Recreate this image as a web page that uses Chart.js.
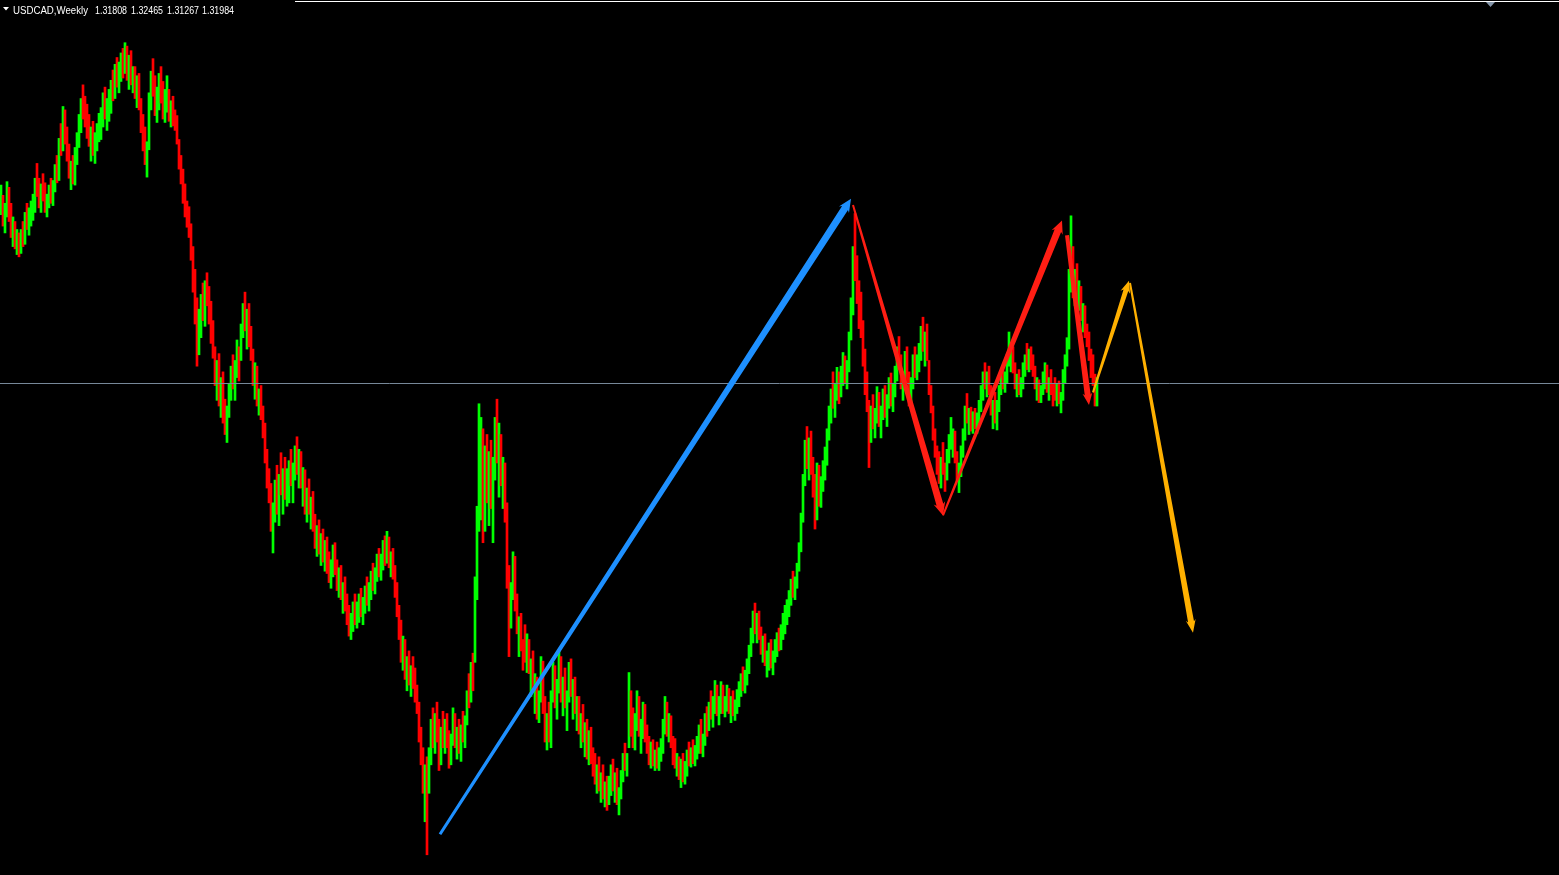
<!DOCTYPE html>
<html><head><meta charset="utf-8">
<script src="https://cdn.jsdelivr.net/npm/chart.js@4.4.0/dist/chart.umd.min.js"></script>
<style>html,body{margin:0;padding:0;background:#000;overflow:hidden}canvas{display:block}</style>
</head><body>
<canvas id="c" width="1559" height="875"></canvas>
<script>
// ---- data (USDCAD, one bar per two weeks) ----
const symbolTitle = "USDCAD,Weekly";
const quoteLabels = ["1.31808", "1.32465", "1.31267", "1.31984"];
const bidPrice = 1.31984;
const firstOpen = 1.474;

const highs = [
1.494,1.485,1.478,1.497,1.492, 1.478,1.466,1.462,1.455,1.452,
1.455,1.462,1.470,1.478,1.474,1.480,1.486, 1.500,1.513,1.500,1.495,1.504,
1.496,1.486,1.494,1.500,1.498, 1.512,1.520,1.535,1.548,1.563,1.560,1.545,
1.530,1.515,1.520,1.527,1.540, 1.556,1.570,1.582,1.572,1.565,
1.556,1.545,1.550,1.540,1.548,1.557, 1.562,1.575,1.580,1.570,1.578,
1.586,1.595,1.600,1.606,1.602, 1.610,1.614,1.619,1.616,1.608,1.612,1.598,
1.598,1.590,1.592, 1.570,1.556,1.545,1.532,1.575, 1.594,1.605,1.590,1.580,
1.592,1.598,1.585,1.578,1.590, 1.578,1.568,1.572,1.560,1.555,
1.534,1.520,1.508,1.495,1.480, 1.475,1.460,1.440,1.420,1.395,1.385,
1.398,1.408,1.410,1.417,1.405,1.392,1.375, 1.352,1.340,1.346,1.325,1.330,1.306,1.300,
1.320,1.335,1.345,1.340,1.358,1.352, 1.372,1.390,1.400,1.385,1.390,1.370,
1.350,1.338,1.335,1.315,1.318,1.300, 1.285,1.262,1.245, 1.232,1.215,1.235,
1.248,1.240,1.259,1.245,1.255,1.245, 1.252,1.262,1.250,1.265,1.273,1.262,
1.260,1.246,1.244,1.228,1.236,1.220,1.225, 1.205,1.195,1.200,1.188,1.192,1.182,1.185,
1.172,1.165,1.178,1.180,1.165,1.158,1.160,1.145,1.150,1.135, 1.125,1.118,1.128,1.135,1.128,
1.135,1.140,1.132,1.142,1.150,1.145,1.155,1.162,1.158,1.170,
1.175,1.170,1.182,1.186,1.190,1.185,1.172,1.175,1.160,1.145,
1.125,1.112,1.098,1.095,1.080, 1.085,1.072,1.080,1.070,1.055, 1.040,1.018,1.000,0.985, 0.992,
1.000,1.025,1.035,1.030,1.040,1.025,1.018,1.032,
1.025,1.030,1.015,1.012,1.035,1.030,1.018,1.025,1.020,1.032,1.028,
1.050,1.065,1.075,1.083, 1.150,1.212, 1.302,1.290,1.280,1.265,1.275,
1.260,1.270,1.255,1.290,1.306,1.285, 1.275,1.255,1.250, 1.215,1.160, 1.145,1.172,1.168,
1.135,1.115,1.118,1.095,1.108,1.100, 1.095,1.078,1.085,1.065,1.062,1.050,
1.080,1.076,1.045,1.030,1.040, 1.050,1.075,1.072,1.060,
1.086,1.080,1.062,1.070,1.050,1.075,1.078,1.060,1.062,1.045,
1.045,1.030,1.038,1.022,1.025,1.015,1.018,1.000, 0.995,0.985,0.992,0.978,0.985,0.970,0.975,
0.975,0.985,0.990,0.978,0.982,0.965,0.980, 0.995,1.004,0.995, 1.066,1.050,
1.035,1.030,1.050,1.045,1.025,1.040,1.038,1.020, 1.010,1.005,1.007,0.998,1.005,1.000,1.008,1.025,
1.045,1.040,1.030, 1.028,1.010,1.008,0.995,0.992, 0.990,0.995,0.988,0.998,
1.005,1.000,1.007,1.002,1.010,1.020, 1.025,1.012,1.030,1.036,
1.040,1.050,1.045,1.059,1.055,1.045, 1.058,1.055,1.045,1.055,1.052,
1.045,1.050,1.042,1.051,1.058, 1.065,1.071,1.068,1.078,1.090,
1.105,1.120,1.127,1.118,1.120, 1.106,1.098,1.100,1.085,1.092,1.095,1.085,
1.095,1.101,1.105,1.108,1.118,1.125,1.130, 1.138,1.148,1.155,1.150,1.162,
1.180,1.206, 1.240,1.270,1.282, 1.272,1.278,1.255,1.240,1.250,
1.248,1.238,1.252,1.264,1.280, 1.300,1.315,1.330,1.320,1.334,1.330,
1.335,1.347,1.344,1.340,1.365, 1.395,1.440,1.469, 1.432,1.410,1.400, 1.375,1.350,1.330, 1.305,
1.300,1.310,1.298,1.317,1.312,1.300,1.315, 1.318,1.310,1.325,1.329,1.320,
1.335,1.352,1.361,1.345,1.330,1.348,1.352, 1.330,1.325,1.345, 1.352,1.345,1.355,
1.370,1.378,1.365,1.372, 1.340,1.318, 1.300,1.280,1.265,1.260, 1.255,1.268,1.250,1.262,
1.275,1.290,1.280,1.278, 1.260,1.250,1.265, 1.280,1.300,1.311,1.298,
1.299,1.295,1.298,1.294,1.305, 1.318,1.330,1.338,1.330,1.335, 1.318,1.305,1.312,1.305,1.318,
1.328,1.334,1.330,1.345, 1.365,1.355,1.352, 1.338,1.328,1.332,1.325,1.338,
1.345,1.355,1.350,1.352,1.345, 1.335,1.325,1.323,1.318,1.330, 1.338,1.336,1.325,1.332,1.320,
1.325,1.320,1.322,1.312,1.332, 1.345,1.360, 1.420,1.467, 1.440,1.420,1.425,1.410,
1.405,1.390,1.388,1.372, 1.365,1.350,1.345,1.328,1.325
];

const lows = [
1.468,1.458,1.452,1.466,1.462, 1.448,1.440,1.438,1.433,1.431,
1.434,1.440,1.442,1.455,1.450,1.458,1.463, 1.470,1.484,1.474,1.470,1.480,
1.470,1.466,1.474,1.478,1.476, 1.488,1.496,1.498,1.520,1.524,1.530,1.515,
1.500,1.490,1.495,1.494,1.512, 1.527,1.540,1.552,1.545,1.535,
1.528,1.515,1.520,1.513,1.524,1.532, 1.534,1.545,1.552,1.542,1.550,
1.557,1.568,1.570,1.580,1.575, 1.585,1.588,1.592,1.586,1.578,1.582,1.575,
1.570,1.562,1.560, 1.540,1.524,1.512,1.501,1.525, 1.560,1.572,1.555,1.549,
1.560,1.566,1.552,1.549,1.558, 1.550,1.545,1.546,1.542,1.530,
1.508,1.495,1.478,1.466,1.457, 1.448,1.428,1.400,1.372,1.335,1.345,
1.360,1.375,1.370,1.388,1.372,1.355,1.342, 1.318,1.305,1.300,1.290,1.285,1.275,1.268,
1.290,1.305,1.315,1.305,1.325,1.322, 1.340,1.360,1.366,1.350,1.352,1.340,
1.318,1.306,1.300,1.292,1.288,1.272, 1.250,1.228,1.215, 1.190,1.171,1.198,
1.205,1.195,1.222,1.205,1.218,1.212, 1.215,1.230,1.215,1.235,1.240,1.228,
1.228,1.212,1.205,1.198,1.205,1.192,1.190, 1.175,1.168,1.170,1.160,1.163,1.155,1.153,
1.145,1.140,1.150,1.152,1.138,1.132,1.130,1.118,1.120,1.108, 1.098,1.095,1.102,1.108,1.105,
1.110,1.115,1.108,1.118,1.125,1.120,1.130,1.138,1.135,1.146,
1.150,1.147,1.156,1.160,1.162,1.158,1.150,1.148,1.132,1.115,
1.095,1.075,1.068,1.060,1.050, 1.055,1.045,1.052,1.040,1.030, 1.005,0.985,0.960,0.935, 0.906,
0.960,0.985,1.000,0.995,1.005,0.980,0.985,1.000,
0.995,1.000,0.982,0.985,1.002,1.000,0.990,0.995,0.988,1.005,1.000,
1.020,1.035,1.040,1.050, 1.075,1.130, 1.190,1.200,1.180,1.190,1.215,
1.195,1.210,1.180,1.235,1.250,1.220, 1.230,1.210,1.198, 1.140,1.080, 1.105,1.130,1.120,
1.100,1.080,1.085,1.068,1.075,1.066, 1.065,1.045,1.050,1.030,1.025,1.022,
1.040,1.030,1.005,0.998,1.005, 1.000,1.040,1.035,1.025,
1.048,1.040,1.028,1.035,1.015,1.040,1.045,1.025,1.030,1.015,
1.012,1.000,1.005,0.992,0.990,0.985,0.986,0.975, 0.968,0.960,0.962,0.952,0.955,0.948,0.945,
0.950,0.958,0.962,0.952,0.950,0.941,0.955, 0.970,0.980,0.975, 1.000,1.010,
1.000,0.998,1.015,1.010,0.995,1.008,1.005,0.995, 0.985,0.982,0.984,0.980,0.982,0.980,0.988,0.995,
1.012,1.010,1.005, 1.000,0.985,0.982,0.975,0.972, 0.965,0.970,0.968,0.975,
0.984,0.983,0.986,0.984,0.990,0.995, 0.995,0.992,1.002,1.010,
1.015,1.025,1.018,1.030,1.028,1.020, 1.030,1.030,1.027,1.032,1.030,
1.022,1.028,1.024,1.030,1.036, 1.045,1.050,1.048,1.055,1.065,
1.080,1.092,1.100,1.092,1.095, 1.082,1.075,1.072,1.062,1.068,1.070,1.064,
1.075,1.080,1.085,1.086,1.095,1.100,1.108, 1.115,1.125,1.132,1.130,1.140,
1.155,1.172, 1.198,1.230,1.245, 1.235,1.240,1.220,1.192,1.200,
1.212,1.211,1.225,1.235,1.248, 1.270,1.285,1.298,1.290,1.305,1.302,
1.308,1.318,1.320,1.315,1.330, 1.358,1.380,1.410, 1.390,1.368,1.360, 1.335,1.310,1.295, 1.246,
1.268,1.280,1.272,1.285,1.282,1.272,1.288, 1.290,1.282,1.298,1.300,1.295,
1.308,1.322,1.332,1.315,1.305,1.318,1.320, 1.300,1.299,1.315, 1.325,1.323,1.330,
1.340,1.348,1.335,1.340, 1.310,1.294, 1.270,1.255,1.240,1.232, 1.228,1.240,1.225,1.235,
1.250,1.262,1.255,1.250, 1.235,1.224,1.238, 1.255,1.270,1.285,1.275,
1.278,1.276,1.280,1.276,1.285, 1.295,1.305,1.315,1.308,1.310, 1.292,1.280,1.285,1.279,1.295,
1.310,1.315,1.312,1.320, 1.335,1.330,1.329, 1.315,1.308,1.310,1.308,1.315,
1.326,1.332,1.330,1.332,1.326, 1.315,1.305,1.303,1.303,1.310, 1.315,1.312,1.305,1.310,1.300,
1.305,1.300,1.302,1.294,1.305, 1.320,1.335, 1.350,1.400, 1.395,1.388,1.390,1.384,
1.375,1.365,1.360,1.352, 1.340,1.325,1.318,1.300,1.300
];

const closes = [
1.480,1.463,1.470,1.488,1.468, 1.452,1.460,1.443,1.450,1.436,
1.449,1.445,1.466,1.460,1.470,1.476,1.482, 1.495,1.490,1.478,1.492,1.485,
1.475,1.482,1.490,1.484,1.494, 1.508,1.500,1.532,1.526,1.556,1.534,1.520,
1.505,1.510,1.498,1.522,1.535, 1.550,1.566,1.560,1.552,1.545,
1.532,1.540,1.526,1.534,1.545,1.550, 1.556,1.570,1.558,1.565,1.572,
1.582,1.575,1.596,1.588,1.598, 1.604,1.595,1.612,1.590,1.600,1.587,1.592,
1.576,1.585,1.566, 1.545,1.530,1.520,1.528,1.570, 1.588,1.580,1.562,1.575,
1.586,1.572,1.560,1.570,1.582, 1.556,1.562,1.550,1.548,1.535,
1.512,1.500,1.486,1.472,1.465, 1.452,1.436,1.410,1.385,1.350,1.375,
1.392,1.380,1.405,1.395,1.378,1.365,1.350, 1.325,1.334,1.310,1.318,1.295,1.282,1.295,
1.315,1.330,1.320,1.336,1.350,1.345, 1.368,1.384,1.375,1.378,1.360,1.345,
1.325,1.330,1.305,1.310,1.294,1.280, 1.255,1.235,1.225, 1.198,1.205,1.228,
1.212,1.232,1.228,1.240,1.224,1.238, 1.248,1.236,1.245,1.260,1.250,1.255,
1.234,1.240,1.212,1.220,1.210,1.215,1.198, 1.182,1.190,1.176,1.180,1.168,1.175,1.160,
1.150,1.160,1.172,1.158,1.145,1.152,1.136,1.140,1.126,1.115, 1.104,1.112,1.120,1.114,1.122,
1.128,1.120,1.126,1.138,1.132,1.142,1.150,1.145,1.155,1.165,
1.158,1.166,1.178,1.165,1.184,1.162,1.168,1.152,1.138,1.120,
1.100,1.085,1.090,1.066,1.072, 1.060,1.066,1.058,1.048,1.036, 1.010,0.992,0.970,0.978, 0.962,
0.995,1.018,1.010,1.024,1.012,0.990,1.012,1.008,
1.020,1.005,0.990,1.008,1.028,1.006,1.014,1.000,1.016,1.010,1.024,
1.044,1.040,1.068,1.060, 1.140,1.200, 1.230,1.270,1.210,1.250,1.230,
1.245,1.222,1.250,1.280,1.262,1.270, 1.240,1.250,1.205, 1.150,1.100, 1.138,1.165,1.128,
1.108,1.110,1.090,1.088,1.082,1.094, 1.070,1.072,1.055,1.058,1.032,1.045,
1.072,1.036,1.015,1.024,1.010, 1.044,1.068,1.040,1.052,
1.075,1.048,1.058,1.040,1.044,1.068,1.050,1.054,1.036,1.040,
1.018,1.025,1.010,1.016,0.998,1.008,0.992,0.982, 0.975,0.980,0.968,0.972,0.960,0.965,0.952,
0.970,0.980,0.968,0.974,0.955,0.960,0.975, 0.990,0.985,0.992, 1.040,1.020,
1.010,1.025,1.042,1.015,1.020,1.034,1.010,1.005, 0.992,1.000,0.988,0.995,0.990,0.996,1.002,1.020,
1.038,1.016,1.026, 1.005,1.000,0.988,0.990,0.980, 0.985,0.975,0.984,0.992,
0.990,0.996,0.992,0.998,1.005,1.015, 1.000,1.008,1.025,1.020,
1.035,1.030,1.040,1.052,1.034,1.040, 1.050,1.036,1.042,1.048,1.035,
1.040,1.032,1.038,1.046,1.052, 1.060,1.055,1.064,1.072,1.085,
1.100,1.114,1.108,1.112,1.100, 1.090,1.094,1.078,1.080,1.086,1.075,1.082,
1.090,1.096,1.090,1.104,1.112,1.120,1.125, 1.132,1.142,1.140,1.148,1.158,
1.175,1.200, 1.235,1.262,1.250, 1.265,1.246,1.228,1.225,1.242,
1.220,1.232,1.246,1.258,1.275, 1.295,1.308,1.305,1.315,1.325,1.322,
1.330,1.340,1.325,1.336,1.360, 1.388,1.435,1.420, 1.400,1.382,1.375, 1.342,1.320,1.305, 1.290,
1.295,1.285,1.292,1.310,1.290,1.295,1.308, 1.296,1.305,1.318,1.306,1.315,
1.330,1.345,1.338,1.320,1.325,1.342,1.328, 1.308,1.318,1.338, 1.330,1.340,1.350,
1.362,1.355,1.360,1.345, 1.315,1.300, 1.275,1.260,1.258,1.245, 1.250,1.245,1.240,1.255,
1.268,1.270,1.275,1.255, 1.240,1.245,1.260, 1.275,1.295,1.290,1.292,
1.285,1.290,1.284,1.290,1.300, 1.312,1.325,1.320,1.326,1.315, 1.298,1.300,1.292,1.302,1.312,
1.322,1.320,1.326,1.340, 1.345,1.350,1.335, 1.320,1.324,1.316,1.322,1.332,
1.340,1.338,1.346,1.336,1.330, 1.318,1.320,1.308,1.314,1.325, 1.332,1.318,1.322,1.315,1.312,
1.310,1.316,1.306,1.308,1.326, 1.340,1.352, 1.410,1.440, 1.405,1.410,1.398,1.404,
1.382,1.385,1.365,1.360, 1.345,1.340,1.322,1.318,1.320
];

// drawn arrows: [start, end] in bar index / price
const blueArrowX = [219.5, 425],  blueArrowY = [0.924, 1.482];
const redArrow1X = [426, 471],    redArrow1Y = [1.4765, 1.204];
const redArrow2X = [471, 530.5],  redArrow2Y = [1.204, 1.463];
const redArrow3X = [533, 544],    redArrow3Y = [1.450, 1.301];
const orangeArrow1X = [546, 564], orangeArrow1Y = [1.312, 1.410];
const orangeArrow2X = [564.5, 596], orangeArrow2Y = [1.408, 1.101];

// view range
const xMin = -0.5, xMax = 779;
const yMin = 0.88825, yMax = 1.6565;

// ---- build ----
const opens = closes.map((c, i) => i === 0 ? firstOpen : closes[i - 1]);
const barData = highs.map((h, i) => ({ x: i, y: [lows[i], h] }));
const barColors = closes.map((c, i) => c >= opens[i] ? '#00ff00' : '#ff0000');

const overlay = {
  id: 'overlay',
  afterDatasetsDraw(chart) {
    const ctx = chart.ctx, xs = chart.scales.x, ys = chart.scales.y;
    const X = v => xs.getPixelForValue(v), Y = v => ys.getPixelForValue(v);
    ctx.save();
    // bid line
    const by = Math.round(Y(bidPrice)) + 0.5;
    ctx.strokeStyle = '#778899'; ctx.lineWidth = 1;
    ctx.beginPath(); ctx.moveTo(0, by); ctx.lineTo(chart.width, by); ctx.stroke();

    function arrow(ax, ay, color, w0, w1, hl, hw) {
      const sx = X(ax[0]), sy = Y(ay[0]), ex = X(ax[1]), ey = Y(ay[1]);
      const dx = ex - sx, dy = ey - sy, L = Math.hypot(dx, dy);
      const ux = dx / L, uy = dy / L, nx = -uy, ny = ux;
      const bx = ex - ux * hl, bY = ey - uy * hl;
      ctx.fillStyle = color;
      ctx.beginPath();
      ctx.moveTo(sx + nx * w0 / 2, sy + ny * w0 / 2);
      ctx.lineTo(bx + nx * w1 / 2, bY + ny * w1 / 2);
      ctx.lineTo(bx - ux * 2 + nx * hw, bY - uy * 2 + ny * hw);
      ctx.lineTo(ex, ey);
      ctx.lineTo(bx - ux * 2 - nx * hw, bY - uy * 2 - ny * hw);
      ctx.lineTo(bx - nx * w1 / 2, bY - ny * w1 / 2);
      ctx.lineTo(sx - nx * w0 / 2, sy - ny * w0 / 2);
      ctx.closePath(); ctx.fill();
    }
    arrow(blueArrowX, blueArrowY, '#1e90ff', 3, 7, 11, 6);
    arrow(redArrow1X, redArrow1Y, '#ff1e14', 2, 7, 11, 6);
    arrow(redArrow2X, redArrow2Y, '#ff1e14', 2, 7, 11, 6);
    arrow(redArrow3X, redArrow3Y, '#ff1e14', 4, 6, 10, 5);
    arrow(orangeArrow1X, orangeArrow1Y, '#ffb000', 2, 5, 10, 5);
    arrow(orangeArrow2X, orangeArrow2Y, '#ffb000', 2, 6, 11, 5);

    // window frame top line and scroll marker
    ctx.fillStyle = '#ffffff';
    ctx.fillRect(295, 1, chart.width - 295, 1);
    ctx.fillStyle = '#8596aa';
    ctx.beginPath(); ctx.moveTo(1486, 2); ctx.lineTo(1495, 2); ctx.lineTo(1490.5, 7); ctx.closePath(); ctx.fill();

    // title
    ctx.fillStyle = '#ffffff';
    ctx.beginPath(); ctx.moveTo(3, 7); ctx.lineTo(9, 7); ctx.lineTo(6, 10.5); ctx.closePath(); ctx.fill();
    ctx.font = '10px "Liberation Sans", Arial, sans-serif';
    ctx.textBaseline = 'alphabetic';
    ctx.fillText(symbolTitle, 13, 13.5, 75);
    const qx = [95, 131, 167, 202];
    quoteLabels.forEach((t, i) => ctx.fillText(t, qx[i], 13.5, 32));
    ctx.restore();
  }
};

new Chart(document.getElementById('c'), {
  type: 'bar',
  data: {
    datasets: [{
      data: barData,
      backgroundColor: barColors,
      borderWidth: 0,
      barThickness: 2,
      grouped: false
    }]
  },
  options: {
    responsive: false,
    devicePixelRatio: 1,
    animation: false,
    layout: { padding: 0 },
    plugins: { legend: { display: false }, tooltip: { enabled: false }, title: { display: false } },
    scales: {
      x: { type: 'linear', min: xMin, max: xMax, offset: false, display: false },
      y: { type: 'linear', min: yMin, max: yMax, display: false }
    }
  },
  plugins: [overlay]
});
</script>
</body></html>
